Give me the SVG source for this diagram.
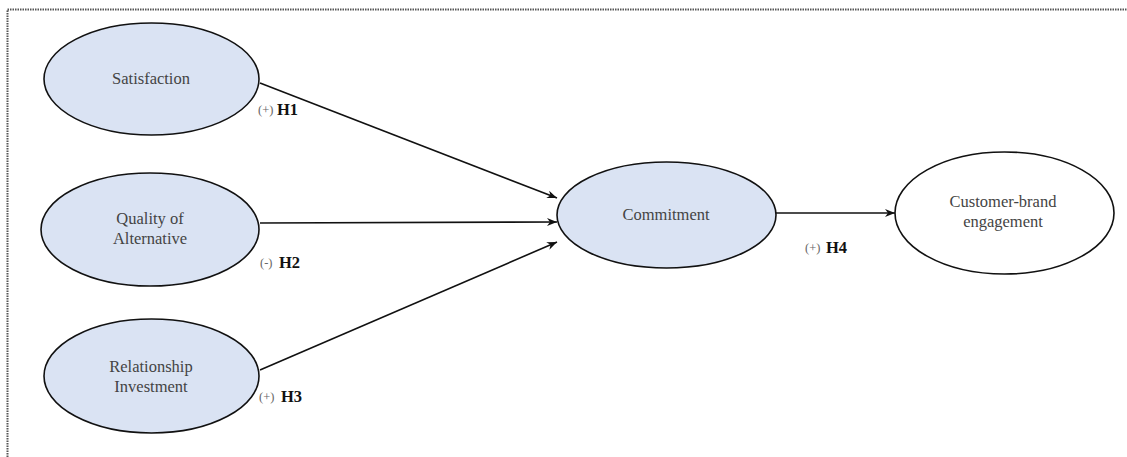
<svg xmlns="http://www.w3.org/2000/svg" width="1127" height="457" viewBox="0 0 1127 457">
<style>
.node ellipse{fill:#dae3f3;stroke:#111;stroke-width:1.6}
.node ellipse.white{fill:#fff}
.lbl{font-family:'Liberation Serif','Times New Roman',serif;font-size:16.5px;fill:#444;text-anchor:middle}
.sign{font-family:'Liberation Serif','Times New Roman',serif;font-size:12.5px;fill:#666}
.hyp{font-family:'Liberation Serif','Times New Roman',serif;font-size:16.5px;font-weight:bold;fill:#111}
.conn line{stroke:#111;stroke-width:1.6;marker-end:url(#arr)}
.frame{stroke:#555;stroke-width:2;stroke-dasharray:1.5 1;fill:none}
</style>
<defs>
<marker id="arr" markerUnits="userSpaceOnUse" markerWidth="12" markerHeight="10" refX="10" refY="4" orient="auto">
<path d="M0,0 L10,4 L0,8 L3,4 Z" fill="#111"/>
</marker>
</defs>
<rect width="1127" height="457" fill="#fff"/>
<path class="frame" d="M7.5,457 V9.5 H1127"/>
<g id="connectors" class="conn">
<line x1="260" y1="83" x2="557" y2="198"/>
<line x1="260" y1="223" x2="557" y2="222"/>
<line x1="260" y1="370" x2="557" y2="242"/>
<line x1="776" y1="213" x2="895" y2="213"/>
</g>
<g id="satisfaction" class="node">
<ellipse cx="151.5" cy="79" rx="107.5" ry="56"/>
<text class="lbl" x="151" y="84">Satisfaction</text>
</g>
<g id="quality" class="node">
<ellipse cx="150" cy="229.5" rx="109" ry="56.5"/>
<text class="lbl" x="150" y="224">Quality of</text>
<text class="lbl" x="150" y="244">Alternative</text>
</g>
<g id="relationship" class="node">
<ellipse cx="151.5" cy="376" rx="107.5" ry="57"/>
<text class="lbl" x="151" y="372">Relationship</text>
<text class="lbl" x="151" y="392">Investment</text>
</g>
<g id="commitment" class="node">
<ellipse cx="666.5" cy="215" rx="109.5" ry="53"/>
<text class="lbl" x="666" y="220">Commitment</text>
</g>
<g id="engagement" class="node">
<ellipse class="white" cx="1004.5" cy="213" rx="109.5" ry="61"/>
<text class="lbl" x="1003" y="207">Customer-brand</text>
<text class="lbl" x="1003" y="227">engagement</text>
</g>
<g id="labels">
<text class="sign" x="258" y="114">(+)</text><text class="hyp" x="277" y="115">H1</text>
<text class="sign" x="260" y="267">(-)</text><text class="hyp" x="279" y="268">H2</text>
<text class="sign" x="259" y="401">(+)</text><text class="hyp" x="281" y="402">H3</text>
<text class="sign" x="805" y="252">(+)</text><text class="hyp" x="826" y="253">H4</text>
</g>
</svg>
